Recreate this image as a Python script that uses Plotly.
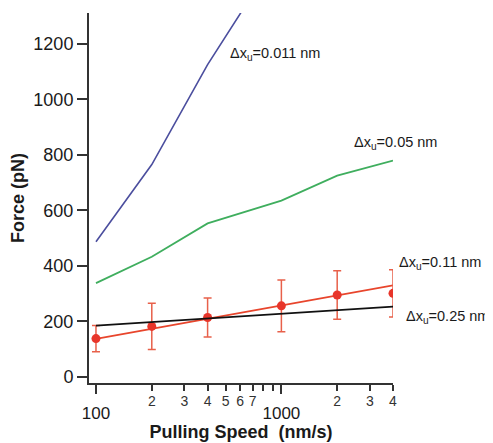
import math
import plotly.graph_objects as go

# Data
speed = [100, 200, 400, 1000, 2000, 4000]
blue_speed = [100, 200, 400, 1000]
blue_force = [487, 765, 1125, 1540]          # dx_u = 0.011 nm
green_force = [338, 433, 553, 635, 725, 779]  # dx_u = 0.05 nm
red_fit_speed = [100, 4000]
red_fit_force = [137, 330]                    # dx_u = 0.11 nm fit
black_speed = [100, 4000]
black_force = [185, 253]                      # dx_u = 0.25 nm
exp_force = [138, 182, 214, 256, 295, 301]    # measured
exp_err = [47, 83, 70, 93, 87, 85]

labeled_vals = [200, 300, 400, 500, 600, 700, 2000, 3000, 4000]
labeled_text = ["2", "3", "4", "5", "6", "7", "2", "3", "4"]
unlabeled_vals = [800, 900]
major_vals = [100, 1000]
major_text = ["100", "1000"]
y_ticks = [0, 200, 400, 600, 800, 1000, 1200]

labels = ["Δx<sub>u</sub>=0.011 nm", "Δx<sub>u</sub>=0.05 nm",
          "Δx<sub>u</sub>=0.11 nm", "Δx<sub>u</sub>=0.25 nm"]

FONT = "Liberation Sans, Arial, sans-serif"
XR = [math.log10(91.7), math.log10(4000)]

fig = go.Figure()
fig.add_trace(go.Scatter(x=blue_speed, y=blue_force, mode="lines",
                         line=dict(color="#4b4e9e", width=1.6)))
fig.add_trace(go.Scatter(x=speed, y=green_force, mode="lines",
                         line=dict(color="#3fae5e", width=1.8)))
fig.add_trace(go.Scatter(x=black_speed, y=black_force, mode="lines", xaxis="x2",
                         line=dict(color="#111111", width=1.8)))
fig.add_trace(go.Scatter(x=red_fit_speed, y=red_fit_force, mode="lines",
                         line=dict(color="#e8452c", width=1.8)))
fig.add_trace(go.Scatter(x=speed, y=exp_force, mode="markers",
                         marker=dict(color="#e8352a", size=9),
                         error_y=dict(type="data", array=exp_err, color="#e8604a",
                                      thickness=1.5, width=4)))

fig.update_layout(
    width=493, height=443,
    margin=dict(l=81, r=108, t=5, b=68),
    paper_bgcolor="white", plot_bgcolor="white",
    showlegend=False,
    font=dict(family=FONT, color="#222222"),
    xaxis=dict(type="log", range=XR,
               tickvals=labeled_vals, ticktext=labeled_text,
               ticks="outside", ticklen=6, tickwidth=1.5, tickcolor="#333333",
               tickfont=dict(size=14, color="#333333"),
               ticklabelstandoff=-2,
               minor=dict(tickvals=unlabeled_vals, ticks="outside", ticklen=6,
                          tickwidth=1.5, tickcolor="#333333"),
               showline=True, linecolor="#333333", linewidth=2,
               showgrid=False, zeroline=False,
               title=dict(text="<b>Pulling Speed\u00a0 (nm/s)</b>",
                          font=dict(size=18, color="#1a1a1a"),
                          standoff=18)),
    xaxis2=dict(type="log", overlaying="x", matches="x", side="bottom", anchor="y",
                range=XR,
                tickvals=major_vals, ticktext=major_text,
                ticks="outside", ticklen=10, tickwidth=1.5, tickcolor="#333333",
                tickfont=dict(size=17, color="#1a1a1a"),
                ticklabelstandoff=5,
                showline=False, showgrid=False, zeroline=False),
    yaxis=dict(range=[-22, 1311], tickvals=y_ticks,
               ticks="outside", ticklen=10, tickwidth=1.5, tickcolor="#333333",
               tickfont=dict(size=18, color="#1a1a1a"),
               showline=True, linecolor="#333333", linewidth=2,
               showgrid=False, zeroline=False,
               title=dict(text="<b>Force (pN)</b>",
                          font=dict(size=18, color="#1a1a1a"), standoff=6)),
)

# label anchors: (x in paper fraction, y in data units)
ann_pos = [(0.456, 1162), (0.866, 843), (1.014, 409), (1.037, 214)]
for txt, (ax, ay) in zip(labels, ann_pos):
    fig.add_annotation(x=ax, y=ay, xref="paper", yref="y", text=txt,
                       showarrow=False, xanchor="left", yanchor="middle",
                       font=dict(size=14.5, color="#1a1a1a", family=FONT))

fig.write_html("out.html")
